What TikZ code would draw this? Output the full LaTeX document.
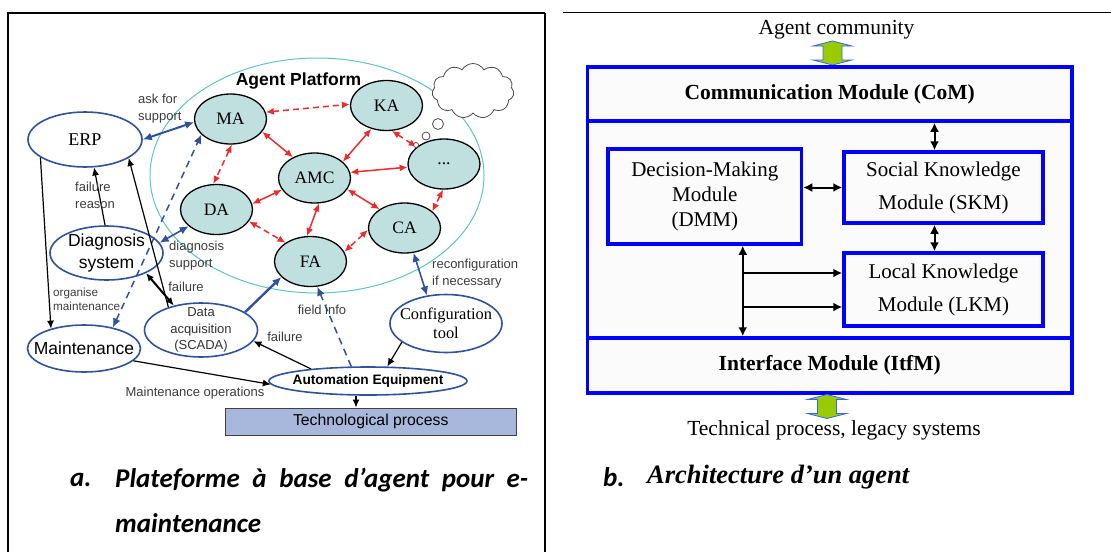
\documentclass[tikz,border=0pt]{standalone}
\usepackage{fontspec}
\setmainfont{Liberation Serif}
\setsansfont{Liberation Sans}
\newfontfamily\capfont{Carlito}
\usetikzlibrary{positioning,arrows.meta,shapes.geometric,shapes.symbols}
\definecolor{uEdge}{HTML}{2F52A0}
\definecolor{uAgent}{HTML}{C0E0E0}
\definecolor{uRed}{HTML}{F02A2A}
\definecolor{uPlat}{HTML}{5CC6C6}
\definecolor{uProc}{HTML}{A8B8DC}
\definecolor{uLbl}{HTML}{3C3C3C}
\definecolor{uMod}{HTML}{0000FF}
\definecolor{uPane}{HTML}{FBFBFB}
\definecolor{uGreen}{HTML}{99CC00}
\definecolor{uRim}{HTML}{3366FF}
\tikzset{
  rule/.style={line width=2pt},
  platform/.style={ellipse, draw=uPlat, line width=1pt, minimum width=334pt,
                   minimum height=235pt, inner sep=0pt},
  agent/.style={ellipse, draw=black, line width=1.3pt, fill=uAgent,
                minimum width=72pt, minimum height=50pt, inner sep=0pt,
                font=\fontsize{17.5}{20}\selectfont},
  actor/.style={ellipse, draw=uEdge, line width=1.6pt, fill=white, inner sep=0pt},
  tag/.style={align=center, inner sep=0pt, text=black},
  bubble/.style={circle, draw=black!70, line width=0.8pt, fill=white, inner sep=0pt},
  % small grey words next to the arrows
  lbl/.style={font=\sffamily\fontsize{13}{17}\selectfont, text=uLbl, align=left,
              inner sep=0pt},
  peer/.style={{Latex[length=8pt,width=7pt]}-{Latex[length=8pt,width=7pt]},
               draw=uRed, line width=1.5pt},
  peerdash/.style={peer, dash pattern=on 6pt off 4pt},
  wire/.style={-{Latex[length=9pt,width=8pt]}, draw=uEdge, line width=2pt},
  wire2/.style={wire, {Latex[length=9pt,width=8pt]}-{Latex[length=9pt,width=8pt]}},
  wiredash/.style={wire, line width=1.5pt, dash pattern=on 7pt off 5pt},
  push/.style={-{Latex[length=8pt,width=7pt]}, line width=1.2pt},
  push2/.style={{Latex[length=8pt,width=7pt]}-{Latex[length=8pt,width=7pt]},
                line width=2pt},
  module/.style={draw=uMod, line width=3.5pt, fill=uPane, align=center,
                 font=\fontsize{21}{25}\selectfont, inner sep=0pt},
  band/.style={module, font=\bfseries\fontsize{21.5}{25}\selectfont},
  ctl/.style={{Latex[length=9pt,width=9pt]}-{Latex[length=9pt,width=9pt]},
              line width=2pt},
  ctl1/.style={-{Latex[length=9pt,width=9pt]}, line width=2pt},
  gate/.style={draw=uRim, line width=0.8pt, fill=uGreen, line join=miter},
  capsans/.style={font=\capfont\bfseries\itshape\fontsize{27}{32}\selectfont,
                  inner sep=0pt},
  capserif/.style={font=\rmfamily\bfseries\itshape\fontsize{26.5}{32}\selectfont,
                   inner sep=0pt},
}
% wide flat double arrow, centred on a named coordinate
\newcommand{\gatearrow}[1]{%
  \draw[gate] (#1) ++(0,-12) -- ++(19.5,5) -- ++(-10,0) -- ++(0,14) -- ++(10,0)
    -- ++(-19.5,5) -- ++(-19.5,-5) -- ++(10,0) -- ++(0,-14) -- ++(-10,0) -- cycle;}

\begin{document}
\begin{tikzpicture}[x=1pt, y=-1pt]
\useasboundingbox (0,0) rectangle (1111,552);

%% ── table rules ─────────────────────────────────────────────────────────
\draw[rule] (7.5,552) -- (7.5,12.5) -- (545,12.5);
\draw[rule, line width=1.5pt] (545,12.5) -- (545,552);
\draw[rule, line width=1.2pt] (563,12.5) -- (1111,12.5);

%% ── a. agent platform ───────────────────────────────────────────────────
\node[platform] (plat) at (317,175.5) {};
\node[font=\sffamily\bfseries\fontsize{17.5}{20}\selectfont, inner sep=0pt]
  (platl) at (298.5,81) {Agent Platform};

\node[agent] (ma)   at (230.5,119)   {MA};
\node[agent] (ka)   at (386.5,105.5) {KA};
\node[agent] (amc)  at (314.5,178)   {AMC};
\node[agent] (more) at (444,164)     {...};
\node[agent] (da)   at (216.5,209.5) {DA};
\node[agent] (ca)   at (404.5,228)   {CA};
\node[agent] (fa)   at (310.5,261.5) {FA};

\node[cloud, cloud puffs=11, cloud puff arc=120, draw=black!70, line width=0.8pt,
      fill=white, minimum width=82pt, minimum height=55pt, inner sep=0pt]
  (thought) at (473,91) {};

%% ── actors round the platform ───────────────────────────────────────────
\node[actor, minimum width=114pt, minimum height=55pt,
      label={[tag, font=\fontsize{18}{20}\selectfont]center:ERP}] (erp) at (85,139.5) {};
\node[actor, minimum width=113pt, minimum height=54pt,
      label={[tag, font=\sffamily\fontsize{17.5}{22}\selectfont]center:{Diagnosis\\system}}]
  (diag) at (106.5,253) {};
\node[actor, minimum width=113pt, minimum height=47pt,
      label={[tag, font=\sffamily\fontsize{17.5}{20}\selectfont]center:Maintenance}]
  (maint) at (84,348.5) {};
\node[actor, minimum width=113pt, minimum height=54pt,
      label={[tag, text=black!80, font=\sffamily\fontsize{13}{16.5}\selectfont]center:{Data\\acquisition\\(SCADA)}}]
  (scada) at (201,330) {};
\node[actor, minimum width=112pt, minimum height=58pt,
      label={[tag, font=\fontsize{16.4}{19}\selectfont]center:{Configuration\\tool}}]
  (config) at (446,323.5) {};
\node[actor, minimum width=198pt, minimum height=28pt,
      label={[tag, font=\sffamily\bfseries\fontsize{13.7}{16}\selectfont]center:Automation Equipment}]
  (autom) at (368,381) {};
\node[draw=black!75, line width=1pt, fill=uProc, minimum width=291.5pt,
      minimum height=27pt, inner sep=0pt, font=\sffamily\fontsize{15.8}{18}\selectfont]
  (proc) at (370.75,421.5) {Technological process};

%% ── agent to agent ──────────────────────────────────────────────────────
\draw[peerdash] (ma.11)   -- (ka.178);
\draw[peer]     (ma.-22)  -- (amc.136);
\draw[peerdash] (ma.-87)  -- (da.97);
\draw[peer]     (ka.237)  -- (amc.30);
\draw[peerdash] (ka.-78)  -- (more.148);
\draw[peer]     (amc.9)   -- (more.185);
\draw[peer]     (amc.200) -- (da.9);
\draw[peer]     (amc.-80) -- (fa.98);
\draw[peer]     (amc.-19) -- (ca.143);
\draw[peerdash] (more.-92) -- (ca.31);
\draw[peerdash] (da.-20)  -- (fa.143);
\draw[peerdash] (ca.183)  -- (fa.16);

\node[bubble, minimum size=11pt] (bub1) at (438,124) {};
\node[bubble, minimum size=8pt]  (bub2) at (426,136) {};
\node[bubble, minimum size=5pt]  (bub3) at (416,145) {};

%% ── platform to the outside ─────────────────────────────────────────────
\draw[wire2] (erp.east) -- (ma.185);
\draw[wire2, line width=1.6pt] (diag.11) -- (da.211);
\draw[wiredash, {Latex[length=9pt,width=8pt]}-{Latex[length=9pt,width=8pt]}]
  (maint.36) -- (ma.208);
\draw[wire, line width=2.4pt] (scada.22) -- (fa.208);
\draw[wiredash] (autom.139) -- (fa.-75);
\draw[wire2, line width=1.6pt] (ca.-70) -- (config.124);

\draw[push]  (diag.93)   -- (erp.-72);
\draw[push]  (erp.202)   -- (maint.149);
\draw[push]  (scada.145) -- (erp.-23);
\draw[push2] (diag.-27)  -- (scada.138);
\draw[push]  (config.203) -- (autom.37);
\draw[push]  (autom.168) -- (scada.-12);
\draw[push]  (maint.-14) -- (autom.182);
\draw[push]  ([xshift=-12pt]autom.south) -- ([xshift=-12pt]autom.south |- proc.north);

\node[lbl, anchor=west] (askl)    at (138,108.5) {ask for\\support};
\node[lbl, anchor=west] (reasonl) at (75,195.5)  {failure\\reason};
\node[lbl, anchor=west, font=\sffamily\fontsize{11.7}{14}\selectfont]
  (orgl) at (53,299) {organise\\maintenance};
\node[lbl] (fail1) at (186,287) {failure};
\node[lbl, anchor=west] (diagl)   at (169,255.5) {diagnosis\\support};
\node[lbl] (fieldl) at (322,310) {field info};
\node[lbl] (fail2)  at (285,337) {failure};
\node[lbl] (opsl)   at (195,393) {Maintenance operations};
\node[lbl, anchor=west] (reconfl) at (432,274) {reconfiguration\\if necessary};

%% ── b. one agent ────────────────────────────────────────────────────────
\node[font=\fontsize{21.5}{25}\selectfont, inner sep=0pt] (commun) at (836.5,30) {Agent community};
\coordinate (gup) at (832.5,53);
\gatearrow{gup}

\node[module, minimum width=484.5pt, minimum height=326pt] (agentbox) at (829.75,230) {};
\node[band, minimum width=484.5pt, minimum height=54pt] (com) at (829.75,94)
  {Communication Module (CoM)};
\node[band, minimum width=484.5pt, minimum height=55pt] (itf) at (829.75,365.5)
  {Interface Module (ItfM)};
\node[module, minimum width=193.5pt, minimum height=95pt] (dmm) at (704.75,196.5)
  {Decision-Making\\Module\\(DMM)};
\node[module, font=\fontsize{21}{33}\selectfont, minimum width=199pt, minimum height=71pt]
  (skm) at (943.5,187.5) {Social Knowledge\\Module (SKM)};
\node[module, font=\fontsize{21}{33}\selectfont, minimum width=199pt, minimum height=73pt]
  (lkm) at (943.5,289.5) {Local Knowledge\\Module (LKM)};

\draw[ctl] ([xshift=-9pt]skm.north) -- ([xshift=-9pt]skm.north |- com.south);
\draw[ctl] ([xshift=-9pt]skm.south) -- ([xshift=-9pt]lkm.north);
\draw[ctl] (dmm.east |- skm.west) -- (skm.west);
\coordinate (bus) at ([xshift=38pt]dmm.south);
\draw[ctl] (bus) -- (bus |- itf.north);
\draw[ctl1] ([yshift=16.5pt]lkm.west -| bus) -- ([yshift=16.5pt]lkm.west);
\draw[ctl1] ([yshift=-17.5pt]lkm.west -| bus) -- ([yshift=-17.5pt]lkm.west);

\coordinate (gdown) at (827,406.5);
\gatearrow{gdown}
\node[font=\fontsize{21.5}{25}\selectfont, inner sep=0pt] (legacy) at (834,430)
  {Technical process, legacy systems};

%% ── captions ────────────────────────────────────────────────────────────
\node[capsans, anchor=west] (capa)  at (70,480)  {a.};
\node[capsans, anchor=west] (capa1) at (115,480)
  {\makebox[413pt][s]{Plateforme à base d’agent pour e-}};
\node[capsans, anchor=west] (capa2) at (115,523) {maintenance};
\node[capsans, anchor=west] (capb)  at (603,477) {b.};
\node[capserif, anchor=west] (capb1) at (647,477) {Architecture d’un agent};

\end{tikzpicture}
\end{document}
